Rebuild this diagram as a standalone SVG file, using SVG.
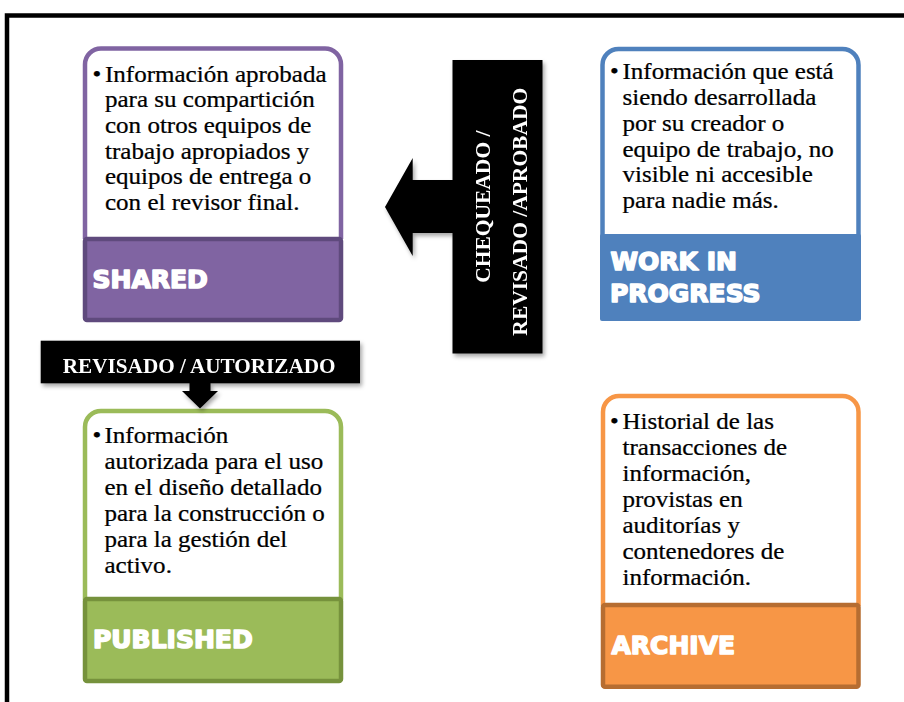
<svg xmlns="http://www.w3.org/2000/svg" width="904" height="702" viewBox="0 0 904 702">
  <defs>
    <filter id="shadow" x="-10%" y="-10%" width="130%" height="130%">
      <feDropShadow dx="2" dy="3" stdDeviation="2" flood-color="#000" flood-opacity="0.35"/>
    </filter>
  </defs>
  <style>
    .body { font-family: "Liberation Serif", "Times New Roman", serif; font-size: 23.5px; fill: #000; stroke: #000; stroke-width: 0.25px; }
    .lbl { font-family: "DejaVu Sans", "Liberation Sans", sans-serif; font-weight: bold; font-size: 25px; fill: #fff; stroke: #fff; stroke-width: 1.6px; stroke-linejoin: round; }
    .tag { font-family: "Liberation Serif", "Times New Roman", serif; font-weight: bold; fill: #fff; }
    .card { fill: #fff; stroke-width: 4.5px; }
    .band { stroke-width: 4.5px; }
  </style>
  <rect x="0" y="0" width="904" height="702" fill="#fff"/>
  <!-- outer frame -->
  <rect x="7" y="15.5" width="1000" height="1000" fill="none" stroke="#000" stroke-width="4.5"/>

  <!-- SHARED -->
  <g id="shared">
    <path class="card" stroke="#8064a2" d="M85,239 V64.5 A16,16 0 0 1 101,48.5 H325 A16,16 0 0 1 341,64.5 V239"/>
    <text class="body" transform="matrix(1.065 0 0 1 92.5 0)" x="0" y="81.7">•</text>
    <text class="body" transform="matrix(1.065 0 0 1 105 0)">
      <tspan x="0" y="81.7">Información aprobada</tspan>
      <tspan x="0" y="107.4">para su compartición</tspan>
      <tspan x="0" y="133.1">con otros equipos de</tspan>
      <tspan x="0" y="158.8">trabajo apropiados y</tspan>
      <tspan x="0" y="184.5">equipos de entrega o</tspan>
      <tspan x="0" y="210.2">con el revisor final.</tspan>
    </text>
    <rect class="band" x="85" y="239" width="256" height="81" rx="2" fill="#8064a2" stroke="#5f4a7d"/>
    <text class="lbl" x="92.5" y="287.5">SHARED</text>
  </g>

  <!-- WORK IN PROGRESS -->
  <g id="work-in-progress">
    <path class="card" stroke="#4f81bd" d="M602.5,236 V65 A16,16 0 0 1 618.5,49 H842.5 A16,16 0 0 1 858.5,65 V236"/>
    <text class="body" transform="matrix(1.065 0 0 1 610 0)" x="0" y="79.3">•</text>
    <text class="body" transform="matrix(1.065 0 0 1 622.5 0)">
      <tspan x="0" y="79.3">Información que está</tspan>
      <tspan x="0" y="105.1">siendo desarrollada</tspan>
      <tspan x="0" y="130.9">por su creador o</tspan>
      <tspan x="0" y="156.7">equipo de trabajo, no</tspan>
      <tspan x="0" y="182.5">visible ni accesible</tspan>
      <tspan x="0" y="208.3">para nadie más.</tspan>
    </text>
    <rect x="600" y="234" width="261" height="87" rx="2" fill="#4f81bd"/>
    <text class="lbl" x="610.5" y="270">WORK IN</text>
    <text class="lbl" x="610" y="301.7">PROGRESS</text>
  </g>

  <!-- PUBLISHED -->
  <g id="published">
    <path class="card" stroke="#9bbb59" d="M85,600 V427 A16,16 0 0 1 101,411 H325 A16,16 0 0 1 341,427 V600"/>
    <text class="body" transform="matrix(1.065 0 0 1 92.5 0)" x="0" y="443.3">•</text>
    <text class="body" transform="matrix(1.065 0 0 1 104.5 0)">
      <tspan x="0" y="443.3">Información</tspan>
      <tspan x="0" y="469.3">autorizada para el uso</tspan>
      <tspan x="0" y="495.3">en el diseño detallado</tspan>
      <tspan x="0" y="521.3">para la construcción o</tspan>
      <tspan x="0" y="547.3">para la gestión del</tspan>
      <tspan x="0" y="573.3">activo.</tspan>
    </text>
    <rect class="band" x="85" y="599" width="256" height="82" rx="2" fill="#9bbb59" stroke="#76923c"/>
    <text class="lbl" x="93" y="648.3">PUBLISHED</text>
  </g>

  <!-- ARCHIVE -->
  <g id="archive">
    <path class="card" stroke="#f79646" d="M603,606 V412 A16,16 0 0 1 619,396 H842.5 A16,16 0 0 1 858.5,412 V606"/>
    <text class="body" transform="matrix(1.065 0 0 1 610 0)" x="0" y="429.3">•</text>
    <text class="body" transform="matrix(1.065 0 0 1 622.5 0)">
      <tspan x="0" y="429.3">Historial de las</tspan>
      <tspan x="0" y="455.3">transacciones de</tspan>
      <tspan x="0" y="481.2">información,</tspan>
      <tspan x="0" y="507.2">provistas en</tspan>
      <tspan x="0" y="533.1">auditorías y</tspan>
      <tspan x="0" y="559.1">contenedores de</tspan>
      <tspan x="0" y="585">información.</tspan>
    </text>
    <rect class="band" x="603" y="605" width="255.5" height="81.75" rx="2" fill="#f79646" stroke="#b66d31"/>
    <text class="lbl" x="611.5" y="654">ARCHIVE</text>
  </g>

  <!-- connectors -->
  <g id="connectors">
    <g id="arrow-approve" filter="url(#shadow)">
      <path d="M455,180 H412.7 V158 L385,207 L412.7,256 V233 H455 Z" fill="#000"/>
      <rect x="452.5" y="60" width="90" height="293.5" fill="#000"/>
      <text class="tag" font-size="21.5" text-anchor="middle" transform="translate(490 206.7) rotate(-90)">CHEQUEADO /</text>
      <text class="tag" font-size="21.5" text-anchor="middle" transform="translate(527 211.7) rotate(-90)">REVISADO /APROBADO</text>
    </g>
    <g id="arrow-authorize" filter="url(#shadow)">
      <path d="M189.5,380 V391 H182 L200,408.5 L218,391 H210.5 V380 Z" fill="#000"/>
      <rect x="40.7" y="340.7" width="319.3" height="42.6" fill="#000"/>
      <text class="tag" font-size="21.2" text-anchor="middle" x="199.2" y="372.7">REVISADO / AUTORIZADO</text>
    </g>
  </g>
</svg>
